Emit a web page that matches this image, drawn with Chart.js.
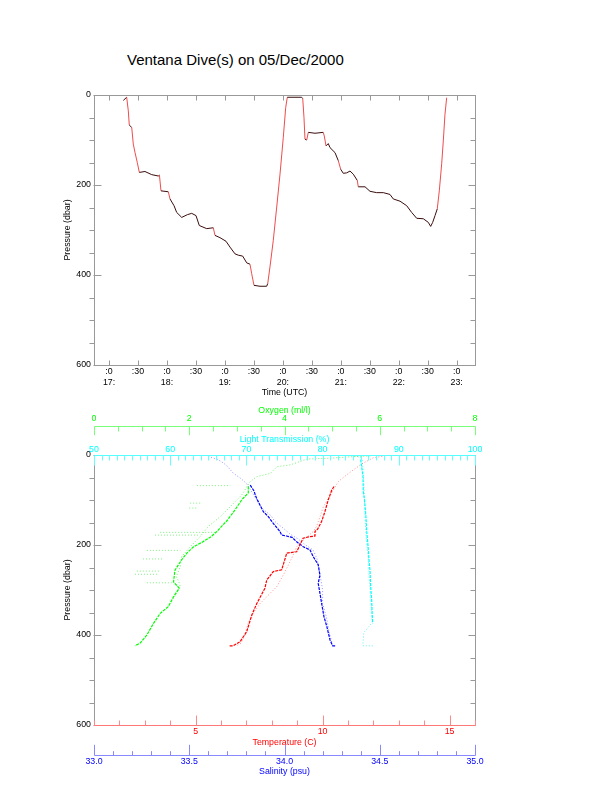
<!DOCTYPE html>
<html>
<head>
<meta charset="utf-8">
<script src="https://cdn.jsdelivr.net/npm/chart.js@4.4.1/dist/chart.umd.min.js"></script>
<style>
html,body{margin:0;padding:0;background:#fff;}
body{width:612px;height:785px;position:relative;overflow:hidden;font-family:"Liberation Sans",Arial,sans-serif;}
#title{position:absolute;left:127px;top:51px;font-size:15px;line-height:18px;white-space:nowrap;color:#000;}
#c1{position:absolute;left:0;top:0;}
#c2{position:absolute;left:0;top:400px;}
</style>
</head>
<body>
<div id="title">Ventana Dive(s) on 05/Dec/2000</div>
<canvas id="c1" width="612" height="400"></canvas>
<canvas id="c2" width="612" height="385"></canvas>
<script>
// ---------- top panel: dive track (time in decimal hours UTC, pressure in dbar) ----------
const diveTime = [17.247,17.305,17.333,17.350,17.392,17.419,17.449,17.488,17.523,17.621,17.737,17.851,17.870,17.897,18.023,18.053,18.122,18.168,18.255,18.351,18.427,18.501,18.558,18.686,18.800,18.829,18.915,19.019,19.088,19.174,19.231,19.307,19.376,19.433,19.462,19.502,19.606,19.721,19.739,19.778,19.835,19.894,19.951,20.008,20.049,20.077,20.325,20.343,20.365,20.382,20.412,20.439,20.555,20.698,20.715,20.745,20.784,20.814,20.900,20.957,20.998,21.043,21.102,21.159,21.216,21.285,21.302,21.418,21.504,21.619,21.733,21.849,21.906,22.022,22.137,22.223,22.310,22.424,22.510,22.551,22.586,22.626,22.665,22.700,22.741,22.769,22.798,22.827];
const divePressure = [12,5,35,67,72,109,128,150,172,170,177,180,178,213,215,231,246,261,272,266,263,268,290,297,295,312,317,325,338,353,356,358,373,376,397,423,425,425,419,382,323,249,176,94,28,5,5,8,50,98,100,83,85,83,91,113,108,117,128,146,165,174,173,169,176,190,204,204,214,217,217,221,231,236,246,261,274,275,283,292,283,268,253,213,153,102,43,6];
const timeTicks = [17,17.5,18,18.5,19,19.5,20,20.5,21,21.5,22,22.5,23];
const timeTickLabels = [[':0','17:'],':30',[':0','18:'],':30',[':0','19:'],':30',[':0','20:'],':30',[':0','21:'],':30',[':0','22:'],':30',[':0','23:']];
const pressureTicks = [0,200,400,600];

// ---------- bottom panel: profiles vs pressure ----------
const oxyDenseVal = [3.24,3.24,3.10,2.96,2.80,2.58,2.44,2.25,2.09,1.95,1.84,1.70,1.67,1.79,1.67,1.56,1.39,1.25,1.11,0.97,0.86];
const oxyDenseP   = [70,84,100,122,145,170,183,195,204,218,233,256,282,296,315,337,352,374,400,418,424];
const oxySparseVal = [5.80,5.40,4.96,4.47,4.12,3.84,3.70,3.42,3.28,3.10,2.86,2.65,2.40,2.23,2.02,1.84,1.81,1.73,1.81,1.73,1.60];
const oxySparseP   = [2,4,7,9,22,26,41,48,59,89,115,137,159,181,204,226,248,270,289,307,330];
const oxyStreakP    = [68,107,118,172,178,212,231,258,265,284];
const oxyStreakFrom = [2.16,2.02,2.00,1.39,1.28,1.11,1.03,0.90,0.86,1.11];
const oxyStreakTo   = [2.86,2.23,2.16,2.58,2.23,1.81,1.43,1.39,1.32,1.63];

const tempDenseVal = [10.45,10.36,10.22,10.09,9.96,9.80,9.70,9.70,9.45,9.23,8.98,8.59,8.39,8.06,7.80,7.73,7.41,7.21,7.01,6.75,6.48,6.30];
const tempDenseP   = [70,78,100,126,148,165,170,180,182,185,215,218,255,259,278,296,330,356,393,415,424,424];
const tempSparseVal = [12.35,12.00,11.60,11.21,10.95,10.62,10.30,10.03,9.90,9.76,9.63,9.24,8.98,8.78,8.45,8.19,7.80,7.54,7.27,7.06,6.94,6.79,6.60];
const tempSparseP   = [3,6,18,33,44,59,90,115,137,159,170,189,204,230,267,293,315,330,352,375,400,418,424];

const salDenseVal = [33.82,33.84,33.85,33.871,33.889,33.915,33.941,33.976,33.985,34.01,34.04,34.064,34.099,34.134,34.151,34.177,34.186,34.177,34.186,34.195,34.207,34.222,34.239,34.253,34.27];
const salDenseP   = [67,80,93,111,126,137,152,170,178,180,183,193,204,211,226,244,267,285,307,330,359,381,411,424,424];
const salSparseVal = [33.60,33.62,33.65,33.68,33.70,33.73,33.77,33.80,33.84,33.88,33.93,33.95,34.00,34.03,34.07,34.11,34.15,34.17,34.18,34.19,34.20,34.20,34.22,34.235,34.25];
const salSparseP   = [2,6,10,18,25,40,52,63,90,118,135,148,165,176,186,200,211,230,250,275,300,330,360,395,418];

const lightDenseVal = [85.00,85.30,85.34,85.50,85.70,85.79,85.90,86.00,86.10,86.22,86.30,86.44,86.50,86.57];
const lightDenseP   = [10,48,81,100,140,170,190,211,235,256,290,322,350,374];
const lightSparseVal = [83.8,84.4,85.0,85.2,85.3,85.4,85.5,85.6,85.7,85.8,86.0,86.1,86.3,86.4,86.5,85.9,85.4,85.34,85.3,85.3,85.8,86.4,86.6];
const lightSparseP   = [1,3,6,12,30,60,100,150,180,200,230,270,310,340,372,385,395,410,420,424,424,424,424];

const oxyTicks = [0,2,4,6,8];
const lightTicks = [50,60,70,80,90,100];
const tempTicks = [5,10,15];
const salTicks = [33.0,33.5,34.0,34.5,35.0];

// ---------- styling ----------
const FAM = '"Liberation Sans", Arial, sans-serif';
const F = {family: FAM, size: 8.8};
const GRAY = '#999';
const pts = (vals, ps) => vals.map((v, i) => ({x: v, y: ps[i]}));
const px = v => Math.round(v) + 0.5;
function seg(ctx, x1, y1, x2, y2, c) {
  ctx.strokeStyle = c; ctx.beginPath(); ctx.moveTo(x1, y1); ctx.lineTo(x2, y2); ctx.stroke();
}
const fixTicks = arr => (s => { s.ticks = arr.map(v => ({value: v})); });
const noGrid = {display: false, drawTicks: false};
const noBorder = {display: false};

function pressureFrame(ctx, a, y) {
  const L = px(a.left), R = px(a.right);
  for (let v = 0; v <= 600; v += 50) {
    const yy = px(y.getPixelForValue(v));
    if (v % 200 === 0) { seg(ctx, L - 1, yy, L + 7, yy, GRAY); seg(ctx, R, yy, R - 7, yy, GRAY); }
    else { seg(ctx, L - 5, yy, L, yy, GRAY); seg(ctx, R, yy, R - 5, yy, GRAY); }
  }
}

const topFrame = {
  id: 'topFrame',
  afterDraw(chart) {
    const {ctx, chartArea: a, scales: {x, y}} = chart;
    ctx.save(); ctx.lineWidth = 1;
    const L = px(a.left), R = px(a.right), T = px(a.top), B = px(a.bottom);
    ctx.strokeStyle = GRAY; ctx.strokeRect(L, T, R - L, B - T);
    pressureFrame(ctx, a, y);
    timeTicks.forEach(t => {
      const xx = px(x.getPixelForValue(t));
      seg(ctx, xx, T, xx, T + 5, GRAY); seg(ctx, xx, B, xx, B - 5, GRAY);
    });
    ctx.restore();
  }
};

const FLAT = '#3a0c0c', STEEP = 'rgba(235,45,45,0.85)';

new Chart(document.getElementById('c1'), {
  type: 'line',
  data: {
    datasets: [{
      data: pts(diveTime, divePressure),
      borderColor: STEEP,
      borderWidth: 1,
      pointRadius: 0,
      tension: 0,
      segment: {
        borderColor: c => {
          const dt = c.p1.parsed.x - c.p0.parsed.x;
          const dp = Math.abs(c.p1.parsed.y - c.p0.parsed.y);
          return dp / dt > 400 ? STEEP : FLAT;
        }
      }
    }]
  },
  options: {
    responsive: false, animation: false,
    layout: {padding: {left: 0, right: 137, top: 95, bottom: 0}},
    plugins: {legend: {display: false}, tooltip: {enabled: false}},
    scales: {
      x: {
        type: 'linear', position: 'bottom', min: 16.741, max: 23.316,
        afterBuildTicks: fixTicks(timeTicks),
        ticks: {font: F, color: '#000', padding: 1.3, maxRotation: 0, autoSkip: false, callback: (v, i) => timeTickLabels[i]},
        grid: noGrid, border: noBorder,
        title: {display: true, text: 'Time (UTC)', font: F, color: '#000', padding: {top: 0, bottom: 1.9}},
        afterFit: s => { s.height = 35; }
      },
      y: {
        type: 'linear', position: 'left', reverse: true, min: 0, max: 600,
        afterBuildTicks: fixTicks(pressureTicks),
        ticks: {font: F, color: '#000', padding: 3},
        grid: noGrid, border: noBorder,
        title: {display: true, text: 'Pressure (dbar)', font: F, color: '#000', padding: {top: 62.3, bottom: 0}},
        afterFit: s => { s.width = 94; }
      }
    }
  },
  plugins: [topFrame]
});

// ---------- bottom chart ----------
const G = '#00ff00', C = '#00ffff', Rd = '#ff0000', Bl = '#0000ff';
const streakData = [];
oxyStreakP.forEach((p, i) => {
  streakData.push({x: oxyStreakFrom[i], y: p}, {x: oxyStreakTo[i], y: p}, {x: null, y: null});
});

const botFrame = {
  id: 'botFrame',
  afterDraw(chart) {
    const {ctx, chartArea: a, scales} = chart;
    ctx.save(); ctx.lineWidth = 1;
    const L = px(a.left), R = px(a.right), T = px(a.top), B = px(a.bottom);
    seg(ctx, L, T, L, B, GRAY); seg(ctx, R, T, R, B, GRAY);
    pressureFrame(ctx, a, scales.y);
    // light transmission (top border)
    seg(ctx, L, T, R, T, '#55ffff');
    for (let v = 50; v <= 100; v += 1) {
      const xx = px(scales.light.getPixelForValue(v));
      seg(ctx, xx, T, xx, T + (v % 10 === 0 ? 10 : 5), '#66ffff');
    }
    // temperature (bottom border)
    seg(ctx, L, B, R, B, '#ff7777');
    for (let v = 1; v <= 16; v += 1) {
      const xx = px(scales.temp.getPixelForValue(v));
      seg(ctx, xx, B, xx, B - (v % 5 === 0 ? 10 : 5), '#ff8888');
    }
    // oxygen axis
    const oy = px(scales.oxy.bottom);
    seg(ctx, L, oy, R, oy, '#77ff77');
    for (let k = 0; k <= 16; k++) {
      const xx = px(scales.oxy.getPixelForValue(k * 0.5));
      seg(ctx, xx, oy, xx, oy + (k % 4 === 0 ? 8.7 : 5), '#77ff77');
    }
    // salinity axis
    const sy = px(scales.sal.top);
    seg(ctx, L, sy, R, sy, '#8888ff');
    for (let k = 0; k <= 20; k++) {
      const xx = px(scales.sal.getPixelForValue(33 + k * 0.1));
      seg(ctx, xx, sy, xx, sy - (k % 5 === 0 ? 10.7 : 4.3), '#8888ff');
    }
    ctx.restore();
  }
};

const dense = (axis, vals, ps, col) => ({xAxisID: axis, yAxisID: 'y', data: pts(vals, ps), showLine: true, borderColor: col, borderWidth: 1.2, borderDash: [3, 1], pointRadius: 0});
const sparse = (axis, data, col) => ({xAxisID: axis, yAxisID: 'y', data: data, showLine: true, borderColor: col, borderWidth: 1, borderDash: [1, 2], pointRadius: 0, spanGaps: false});

new Chart(document.getElementById('c2'), {
  type: 'scatter',
  data: {
    datasets: [
      dense('oxy', oxyDenseVal, oxyDenseP, G),
      dense('temp', tempDenseVal, tempDenseP, Rd),
      dense('sal', salDenseVal, salDenseP, Bl),
      dense('light', lightDenseVal, lightDenseP, C),
      sparse('oxy', pts(oxySparseVal, oxySparseP), 'rgba(0,230,0,0.55)'),
      sparse('oxy', streakData, 'rgba(0,230,0,0.5)'),
      sparse('temp', pts(tempSparseVal, tempSparseP), 'rgba(255,60,60,0.55)'),
      sparse('sal', pts(salSparseVal, salSparseP), 'rgba(60,60,255,0.55)'),
      sparse('light', pts(lightSparseVal, lightSparseP), 'rgba(0,230,230,0.6)')
    ]
  },
  options: {
    responsive: false, animation: false,
    layout: {padding: {left: 0, right: 137, top: 0, bottom: 0}},
    plugins: {legend: {display: false}, tooltip: {enabled: false}},
    scales: {
      y: {
        type: 'linear', position: 'left', reverse: true, min: 0, max: 600,
        afterBuildTicks: fixTicks(pressureTicks),
        ticks: {font: F, color: '#000', padding: 3},
        grid: noGrid, border: noBorder,
        title: {display: true, text: 'Pressure (dbar)', font: F, color: '#000', padding: {top: 62.3, bottom: 0}},
        afterFit: s => { s.width = 94; }
      },
      oxy: {
        type: 'linear', position: 'top', weight: 2, min: 0, max: 8,
        afterBuildTicks: fixTicks(oxyTicks),
        ticks: {font: F, color: G, padding: 2.6, maxRotation: 0, autoSkip: false, callback: v => String(v)},
        grid: noGrid, border: noBorder,
        title: {display: true, text: 'Oxygen (ml/l)', font: F, color: G, padding: {top: 5.6, bottom: 0}},
        afterFit: s => { s.height = 26; }
      },
      light: {
        type: 'linear', position: 'top', weight: 1, min: 50, max: 100,
        afterBuildTicks: fixTicks(lightTicks),
        ticks: {font: F, color: C, padding: 0.6, maxRotation: 0, autoSkip: false, callback: v => String(v)},
        grid: noGrid, border: noBorder,
        title: {display: true, text: 'Light Transmission (%)', font: F, color: C, padding: {top: 8.6, bottom: 0}},
        afterFit: s => { s.height = 29; }
      },
      temp: {
        type: 'linear', position: 'bottom', weight: 1, min: 1, max: 16,
        afterBuildTicks: fixTicks(tempTicks),
        ticks: {font: F, color: Rd, padding: 1.6, maxRotation: 0, autoSkip: false, callback: v => String(v)},
        grid: noGrid, border: noBorder,
        title: {display: true, text: 'Temperature (C)', font: F, color: Rd, padding: {top: 0, bottom: 7.6}},
        afterFit: s => { s.height = 30; }
      },
      sal: {
        type: 'linear', position: 'bottom', weight: 2, min: 33, max: 35,
        afterBuildTicks: fixTicks(salTicks),
        ticks: {font: F, color: Bl, padding: 1.6, maxRotation: 0, autoSkip: false, callback: v => v.toFixed(1)},
        grid: noGrid, border: noBorder,
        title: {display: true, text: 'Salinity (psu)', font: F, color: Bl, padding: {top: 0, bottom: 7.9}},
        afterFit: s => { s.height = 30; }
      }
    }
  },
  plugins: [botFrame]
});
</script>
</body>
</html>
